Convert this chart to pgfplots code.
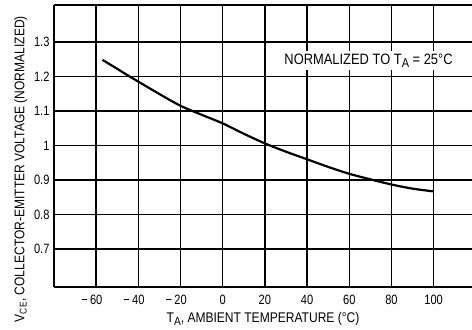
\documentclass[border=0pt]{standalone}
\usepackage{fontspec}
\setmainfont{Liberation Sans}[FakeStretch=0.86]
\newfontfamily\tickfont{Liberation Sans}[FakeStretch=0.82]
\usepackage{pgfplots}
\pgfplotsset{compat=1.18}
\newcommand{\sub}[1]{\raisebox{-0.45ex}{\scalebox{0.85}{#1}}}
\begin{document}
\begin{tikzpicture}
\begin{axis}[
  scale only axis,
  width=418bp, height=282bp,
  xmin=-80, xmax=118.2, ymin=0.59, ymax=1.407,
  axis x line=box, axis y line=left,
  axis line style={-, line width=1.8bp, black},
  xtick={-60,-40,-20,0,20,40,60,80,100},
  xticklabels={\llap{−\,}60,\llap{−\,}40,\llap{−\,}20,0,20,40,60,80,100},
  ytick={0.7,0.8,0.9,1.0,1.1,1.2,1.3},
  yticklabels={0.7,0.8,0.9,1,1.1,1.2,1.3},
  major tick length=0pt,
  xticklabel pos=lower,
  xmajorgrids=true, ymajorgrids=true,
  major grid style={solid, draw=black, line width=1.5bp},
  tick label style={font=\tickfont\fontsize{13.5bp}{15bp}\selectfont},
  xticklabel style={yshift=-5bp},
  yticklabel style={xshift=-1bp},
  label style={font=\fontsize{14bp}{16bp}\selectfont},
  xlabel={T\sub{A}, AMBIENT TEMPERATURE (°C)},
  ylabel={V\textsubscript{CE}, COLLECTOR-EMITTER VOLTAGE\ (NORMALIZED)},
  ylabel style={at={(ticklabel cs:0.418)}},
  clip=false,
]
\addplot[black, line width=2.2bp, smooth] coordinates {
  (-57,1.248) (-50,1.222) (-45,1.203) (-40,1.185) (-30,1.149) (-20,1.115)
  (-10,1.089) (0,1.064) (10,1.034) (20,1.006) (30,0.982) (40,0.960)
  (50,0.938) (60,0.918) (70,0.902) (80,0.887) (90,0.875) (100,0.867)
};
\node[fill=white, anchor=base west, inner sep=2.5bp,
      font=\fontsize{15bp}{17bp}\selectfont]
  at (axis cs:28,1.236) {NORMALIZED TO T\sub{A}\ =\ 25°C};
\end{axis}
\pgfresetboundingbox
\useasboundingbox ([shift={(-54bp,-42bp)}]current axis.south west)
  rectangle ([shift={(0bp,5bp)}]current axis.north east);
\end{tikzpicture}
\end{document}
